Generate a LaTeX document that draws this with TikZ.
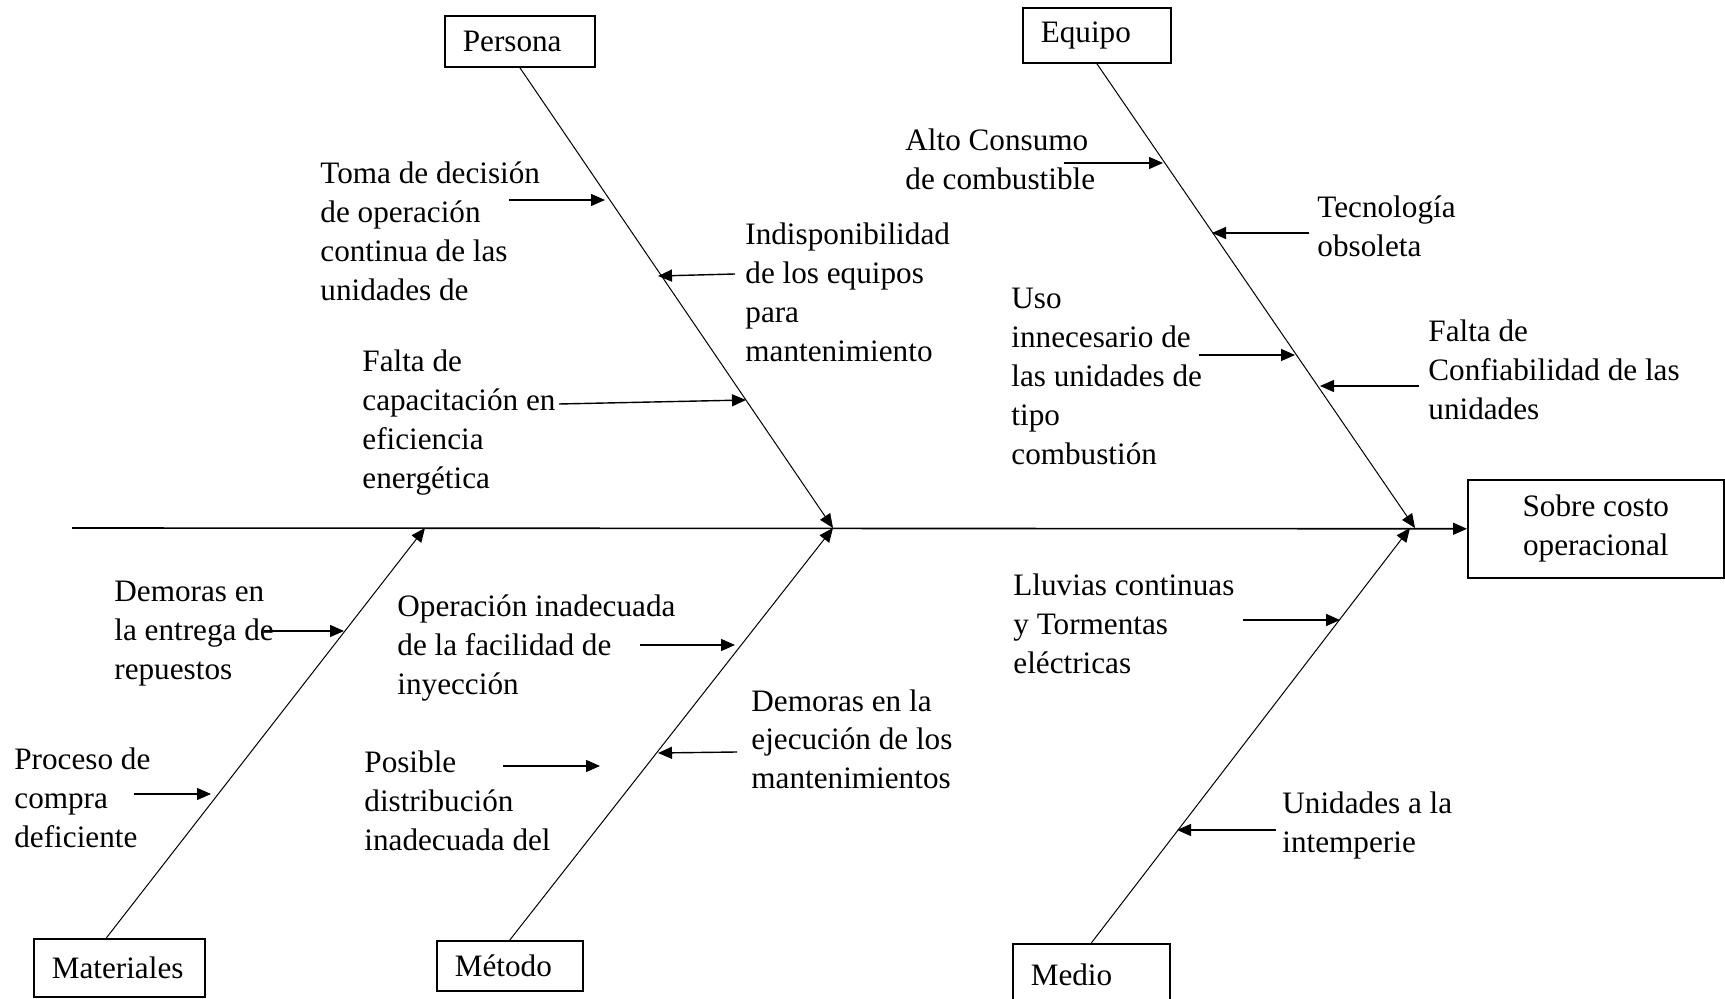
\documentclass[tikz,border=0pt]{standalone}
\usepackage{fontspec}
\setmainfont{Liberation Serif}
\usetikzlibrary{arrows.meta,calc}

\begin{document}
\begin{tikzpicture}[x=0.5pt,y=-0.5pt,
    font=\fontsize{15.6}{19.5}\selectfont,
    categoria/.style={draw,line width=0.8pt,anchor=north west,inner xsep=9pt,align=left},
    causa/.style={anchor=base west,inner sep=0pt,align=left},
    espina/.style={line width=0.5pt,-{Triangle[length=7pt,width=6pt]}},
    flecha/.style={line width=0.7pt,-{Triangle[length=7pt,width=6pt]}}]
  \useasboundingbox (0,0) rectangle (1725,999);

  \node[categoria,text width=57pt,minimum height=25.5pt] (persona) at (444,15) {Persona};
  \node[categoria,text width=56pt,minimum height=27.5pt] (equipo) at (1022,7) {Equipo};
  \node[categoria,text width=67.5pt,minimum height=29pt] (materiales) at (33,938) {Materiales};
  \node[categoria,text width=55pt,minimum height=25pt] (metodo) at (436,940) {Método};
  \node[categoria,text width=60.5pt,minimum height=31pt] (medio) at (1012,943) {Medio};
  \node[categoria,align=center,minimum width=128pt,minimum height=49pt] (efecto) at (1467,479) {Sobre costo\\operacional};

  \coordinate (cola) at (72,528);
  \coordinate (u1) at (425,528);
  \coordinate (u2) at (833,528);
  \coordinate (u3) at (1415,528);
  \coordinate (u4) at (1410,528);
  \draw[espina,line width=0.8pt] (cola) -- (efecto.west);
  \draw[espina] (persona.south) -- (u2);
  \draw[espina] (metodo.north) -- (u2);
  \draw[espina] (equipo.south) -- (u3);
  \draw[espina] (medio.north) -- (u4);
  \draw[espina] ([xshift=-6.5pt]materiales.north) -- (u1);

  \node[causa] (toma) at (320,301) {Toma de decisión\\de operación\\continua de las\\unidades de};
  \node[causa] (indisp) at (745,362) {Indisponibilidad\\de los equipos\\para\\mantenimiento};
  \node[causa] (capac) at (362,489) {Falta de\\capacitación en\\eficiencia\\energética};
  \node[causa] (consumo) at (905,190) {Alto Consumo\\de combustible};
  \node[causa] (tecno) at (1317,257) {Tecnología\\obsoleta};
  \node[causa] (uso) at (1011,465) {Uso\\innecesario de\\las unidades de\\tipo\\combustión};
  \node[causa] (confia) at (1428,420) {Falta de\\Confiabilidad de las\\unidades};
  \node[causa] (entrega) at (114,680) {Demoras en\\la entrega de\\repuestos};
  \node[causa] (compra) at (14,847) {Proceso de\\compra\\deficiente};
  \node[causa] (inyec) at (397,695) {Operación inadecuada\\de la facilidad de\\inyección};
  \node[causa] (distrib) at (364,850) {Posible\\distribución\\inadecuada del};
  \node[causa] (ejecuc) at (751,789) {Demoras en la\\ejecución de los\\mantenimientos};
  \node[causa] (lluvia) at (1013,674) {Lluvias continuas\\y Tormentas\\eléctricas};
  \node[causa] (intemp) at (1282,852) {Unidades a la\\intemperie};

  \foreach \n/\xa/\ya/\xb/\yb in {a/509/200/605/200, b/735/274/658/276, c/559/404/746/400,
      d/1064/163/1163/163, e/1309/233/1212/233, f/1199/355/1295/355, g/1419/386/1320/386,
      h/264/631/344/631, i/134/794/211/794, j/640/645/735/645, k/503/766/600/766,
      l/737/752/658/753, m/1243/620/1340/620, n/1276/830/1177/830}{
    \coordinate (\n0) at (\xa,\ya);
    \coordinate (\n1) at (\xb,\yb);
    \draw[flecha] (\n0) -- (\n1);
  }
\end{tikzpicture}
\end{document}
